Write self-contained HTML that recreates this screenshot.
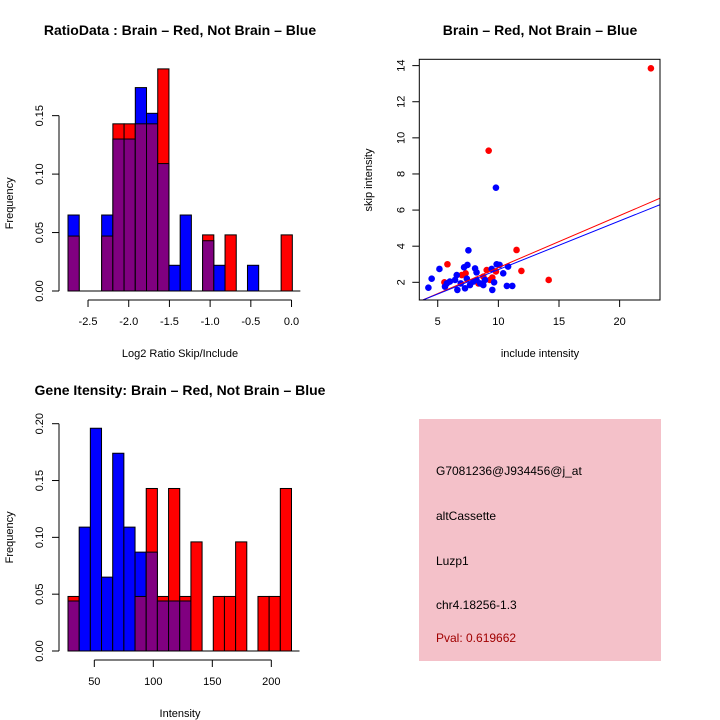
<!DOCTYPE html>
<html><head><meta charset="utf-8"><style>
body{margin:0;background:#fff}
svg{display:block;font-family:"Liberation Sans",sans-serif}
</style></head><body>
<svg id="c" width="720" height="720" viewBox="0 0 720 720" xmlns="http://www.w3.org/2000/svg">
<rect width="720" height="720" fill="#fff"/>
<g id="h1"></g>
<g id="h2"></g>
<g id="sc"></g>
<g>
<rect x="419" y="419" width="242" height="242" fill="#f4c1c9"/>
<text x="436" y="475" font-size="12">G7081236@J934456@j_at</text>
<text x="436" y="520" font-size="12">altCassette</text>
<text x="436" y="565" font-size="12">Luzp1</text>
<text x="436" y="609" font-size="12">chr4.18256-1.3</text>
<text x="436" y="642" font-size="12" fill="#a00000">Pval: 0.619662</text>
</g>
</svg>
<script>
// Ratio histogram data
const ratioRed  = [0.047,0,0,0.047,0.143,0.143,0.143,0.143,0.190,0,0,0,0.048,0,0.048,0,0,0,0,0.048];
const ratioBlue = [0.065,0,0,0.065,0.130,0.130,0.174,0.152,0.109,0.022,0.065,0,0.043,0.022,0,0,0.022,0,0,0];
const ratioXTicks = [-2.5,-2.0,-1.5,-1.0,-0.5,0.0];
const ratioYTicks = [0,0.05,0.10,0.15];
const ratioBinStart = -2.746, ratioBinWidth = 0.1378;
// Intensity histogram data
const intRed  = [0.048,0,0,0,0,0,0.048,0.143,0.048,0.143,0.048,0.096,0,0.048,0.048,0.096,0,0.048,0.048,0.143];
const intBlue = [0.044,0.109,0.196,0.065,0.174,0.109,0.087,0.087,0.044,0.044,0.044,0,0,0,0,0,0,0,0,0];
const intXTicks = [50,100,150,200];
const intYTicks = [0,0.05,0.10,0.15,0.20];
const intBinStart = 27.7, intBinWidth = 9.47;
// Scatter data
const redX = [22.58,9.2,11.5,11.9,14.15,5.8,5.55,6.98,7.3,9.04,9.8,9.5,8.76,8.35,9.3];
const redY = [13.85,9.29,3.79,2.63,2.13,3.0,2.0,2.4,2.5,2.68,2.6,2.26,2.31,1.94,2.13];
const blueX = [9.8,7.53,4.23,4.5,5.14,6.57,7.45,7.17,8.08,8.2,9.86,10.1,10.8,10.4,10.7,11.15,9.5,9.65,9.45,6.0,5.75,6.62,7.25,7.66,6.9,7.94,8.76,8.9,7.4,6.43,8.2,5.6,8.5];
const blueY = [7.24,3.77,1.7,2.2,2.74,2.4,2.96,2.83,2.77,2.55,3.0,2.96,2.87,2.5,1.8,1.8,1.58,2.0,2.74,2.04,1.94,1.58,1.67,1.85,1.94,2.04,1.85,2.13,2.2,2.13,2.13,1.76,1.94];
const redFit = [-0.065,0.288];   // intercept, slope
const blueFit = [0.0,0.270];
const scXTicks = [5,10,15,20];
const scYTicks = [2,4,6,8,10,12,14];

const NS="http://www.w3.org/2000/svg";
function mk(parent,tag,attrs,txt){const e=document.createElementNS(NS,tag);for(const k in attrs)e.setAttribute(k,attrs[k]);if(txt!==undefined)e.textContent=txt;parent.appendChild(e);return e;}

function hist(g,red,blue,binStart,binW,xMin,xPxPerUnit,xTicks,yTicks,yPxPerUnit,base,title,xlabel,tickFmt,axisY){
  const X=v=>xMin+(v-binStart)*xPxPerUnit;
  const Y=v=>base-v*yPxPerUnit;
  for(let i=0;i<red.length;i++){
    const x0=X(binStart+i*binW), w=binW*xPxPerUnit, r=red[i], b=blue[i];
    const hi=Math.max(r,b), lo=Math.min(r,b);
    if(hi>0){
      const top=mk(g,'rect',{x:x0,y:Y(hi),width:w,height:hi*yPxPerUnit,fill:r>=b?'#ff0000':'#0000ff',stroke:'#000','stroke-width':1});
      
      
    }
    if(lo>0){
      const ov=mk(g,'rect',{x:x0,y:Y(lo),width:w,height:lo*yPxPerUnit,fill:'#800080',stroke:'#000','stroke-width':1});
      
      
    }
  }
  // y axis
  const ya=mk(g,'g',{});
  
  
  mk(ya,'line',{x1:59,x2:59,y1:Y(yTicks[0]),y2:Y(yTicks[yTicks.length-1]),stroke:'#000'});
  yTicks.forEach(t=>{const y=Y(t);mk(ya,'line',{x1:52,x2:59,y1:y,y2:y,stroke:'#000'});
    mk(ya,'text',{x:43,y:y,'font-size':11,'text-anchor':'middle',transform:`rotate(-90 43 ${y})`},t.toFixed(2));});
  // baseline
  mk(g,'line',{x1:X(binStart),x2:X(binStart+red.length*binW)+8,y1:base,y2:base,stroke:'#000'});
  // x axis
  const xa=mk(g,'g',{});
  
  
  const tx=xTicks.map(t=>xMin+(t-binStart)*xPxPerUnit);
  mk(xa,'line',{x1:tx[0],x2:tx[tx.length-1],y1:axisY,y2:axisY,stroke:'#000'});
  xTicks.forEach((t,i)=>{mk(xa,'line',{x1:tx[i],x2:tx[i],y1:axisY,y2:axisY+7,stroke:'#000'});
    mk(xa,'text',{x:tx[i],y:axisY+25,'font-size':11,'text-anchor':'middle'},tickFmt(t));});
  const tt=mk(g,'text',{x:180,y:base-256+title[1],'font-size':14,'font-weight':'bold','text-anchor':'middle'},title[0]);
  
  
  const xl=mk(g,'text',{x:180,y:axisY+57,'font-size':11,'text-anchor':'middle'},xlabel);
  
  
  const yc=(base+Y(yTicks[yTicks.length-1]))/2;
  const yl=mk(g,'text',{x:13,y:yc,'font-size':11,'text-anchor':'middle',transform:`rotate(-90 13 ${yc})`},'Frequency');
  
  
}
hist(document.getElementById('h1'),ratioRed,ratioBlue,ratioBinStart,ratioBinWidth,68,81.4,ratioXTicks,ratioYTicks,1169,291,
  ['RatioData : Brain – Red, Not Brain – Blue',0],'Log2 Ratio Skip/Include',t=>t.toFixed(1),300);
hist(document.getElementById('h2'),intRed,intBlue,intBinStart,intBinWidth,68,1.18,intXTicks,intYTicks,1136.5,651,
  ['Gene Itensity: Brain – Red, Not Brain – Blue',0],'Intensity',t=>String(t),660);

// scatter
(function(){
  const g=document.getElementById('sc');
  const L=419.3,R=660,T=59.3,B=300;
  const xmin=3.48,xmax=23.33,ymin=1.02,ymax=14.35;
  const X=v=>L+(v-xmin)/(xmax-xmin)*(R-L);
  const Y=v=>B-(v-ymin)/(ymax-ymin)*(B-T);
  const cp=mk(g,'clipPath',{id:'scclip'});mk(cp,'rect',{x:L,y:T,width:R-L,height:B-T});
  const pts=mk(g,'g',{'clip-path':'url(#scclip)'});
  redX.forEach((x,i)=>{const c=mk(pts,'circle',{cx:X(x),cy:Y(redY[i]),r:3.3,fill:'#ff0000'});
    
    });
  blueX.forEach((x,i)=>{const c=mk(pts,'circle',{cx:X(x),cy:Y(blueY[i]),r:3.3,fill:'#0000ff'});
    
    });
  [[redFit,'#ff0000','fit-line-brain'],[blueFit,'#0000ff','fit-line-not-brain']].forEach(([f,col,nm])=>{
    const l=mk(pts,'line',{x1:X(xmin),y1:Y(f[0]+f[1]*xmin),x2:X(xmax),y2:Y(f[0]+f[1]*xmax),stroke:col,'stroke-width':1});
    
    });
  mk(g,'rect',{x:L,y:T,width:R-L,height:B-T,fill:'none',stroke:'#000'});
  scXTicks.forEach(t=>{const x=X(t);mk(g,'line',{x1:x,x2:x,y1:B,y2:B+7,stroke:'#000'});
    mk(g,'text',{x:x,y:B+25,'font-size':11,'text-anchor':'middle'},String(t));});
  scYTicks.forEach(t=>{const y=Y(t);mk(g,'line',{x1:L-7,x2:L,y1:y,y2:y,stroke:'#000'});
    mk(g,'text',{x:L-15,y:y,'font-size':11,'text-anchor':'middle',transform:`rotate(-90 ${L-15} ${y})`},String(t));});
  const tt=mk(g,'text',{x:540,y:35,'font-size':14,'font-weight':'bold','text-anchor':'middle'},'Brain – Red, Not Brain – Blue');
  
  
  const xl=mk(g,'text',{x:540,y:357,'font-size':11,'text-anchor':'middle'},'include intensity');
  
  
  const yl=mk(g,'text',{x:372,y:180,'font-size':11,'text-anchor':'middle',transform:'rotate(-90 372 180)'},'skip intensity');
  
  
})();
</script>
</body></html>
